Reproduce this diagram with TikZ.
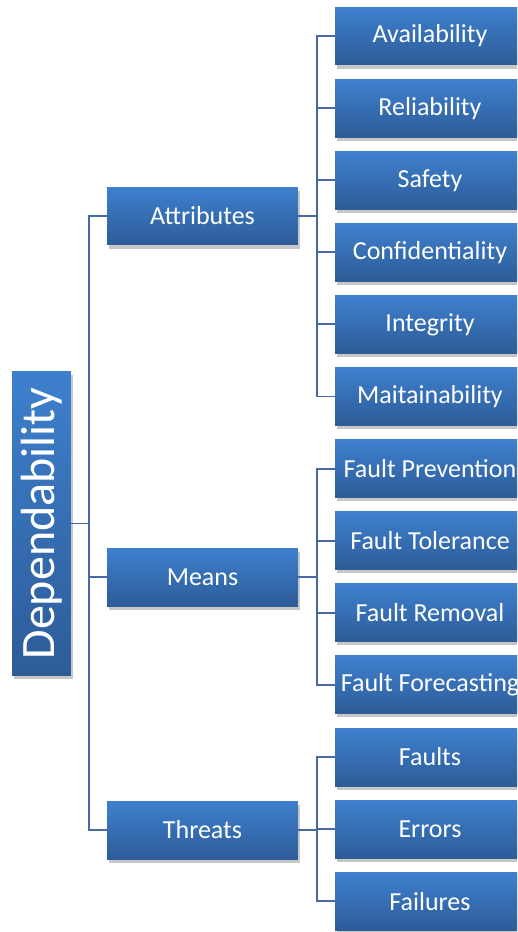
\documentclass[tikz,border=0pt]{standalone}
\usepackage{fontspec}
\setmainfont{Carlito}
\usetikzlibrary{shadows}
\definecolor{boxTop}{RGB}{62,128,206}
\definecolor{boxBot}{RGB}{45,92,152}
\definecolor{linkCol}{RGB}{72,106,164}

\begin{document}
\begin{tikzpicture}[x=0.02cm, y=-0.02cm,
  blueBox/.style={shade, top color=boxTop, bottom color=boxBot, text=white,
    inner xsep=0pt, inner ysep=0pt, font=\fontsize{14.8}{17}\selectfont,
    drop shadow={shadow xshift=1.4pt, shadow yshift=-2pt, opacity=0.22, fill=black}},
  mainBox/.style={blueBox, minimum width=3.82cm, minimum height=1.16cm},
  leafBox/.style={blueBox, minimum width=3.8cm, minimum height=1.16cm},
  link/.style={draw=linkCol, line width=1.1pt}]
\clip (0,0) rectangle (517,932);

% root
\node[blueBox, minimum width=1.18cm, minimum height=6.1cm,
  font=\fontsize{27.3}{30}\selectfont] (dep) at (41.5,523.5) {\rotatebox{90}{Dependability}};

% second level
\node[mainBox] (attr) at (202.5,216) {Attributes};
\node[mainBox] (means) at (202.5,577) {Means};
\node[mainBox] (threats) at (202.5,830) {Threats};

% leaves
\foreach \n/\t [count=\i] in {avail/Availability, rel/Reliability, safe/Safety,
  conf/Confidentiality, integ/Integrity, maint/Maitainability,
  fPrev/Fault Prevention, fTol/Fault Tolerance, fRem/Fault Removal,
  fFore/Fault Forecasting, faults/Faults, errors/Errors, fails/Failures}
{
  \node[leafBox] (\n) at (430, 36+72.1*\i-72.1) {\t};
}

% connectors
\foreach \c in {attr,means,threats}
  \draw[link] (dep.east) -- ++(18,0) |- (\c.west);
\foreach \c in {avail,rel,safe,conf,integ,maint}
  \draw[link] (attr.east) -- ++(19,0) |- (\c.west);
\foreach \c in {fPrev,fTol,fRem,fFore}
  \draw[link] (means.east) -- ++(19,0) |- (\c.west);
\foreach \c in {faults,errors,fails}
  \draw[link] (threats.east) -- ++(19,0) |- (\c.west);

\end{tikzpicture}
\end{document}
